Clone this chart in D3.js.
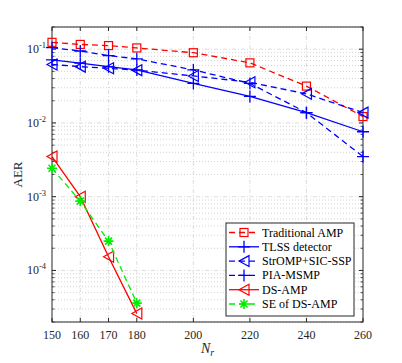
<!DOCTYPE html>
<html>
<head>
<meta charset="utf-8">
<script src="https://cdn.jsdelivr.net/npm/d3@7"></script>
<style>
  body { margin: 0; background: #fff; }
  text { font-family: "Liberation Serif", "DejaVu Serif", serif; }
</style>
</head>
<body>
<script>
// values
var nr = [150, 160, 170, 180, 200, 220, 240, 260];
var nrShort = [150, 160, 170, 180];
var tradAmp = [0.124, 0.116, 0.112, 0.104, 0.0896, 0.0653, 0.0316, 0.0122];
var tlss = [0.0718, 0.0647, 0.058, 0.0524, 0.0344, 0.0229, 0.0138, 0.0076];
var stromp = [0.062, 0.058, 0.055, 0.052, 0.0434, 0.0356, 0.0248, 0.0138];
var piaMsmp = [0.105, 0.0945, 0.082, 0.074, 0.0524, 0.0344, 0.0138, 0.0035];
var dsAmp = [0.0035, 0.001, 0.000153, 0.000026];
var seDsAmp = [0.00243, 0.00087, 0.00025, 0.000036];
var xTicks = [150, 160, 170, 180, 200, 220, 240, 260];
var yDecades = [-1, -2, -3, -4];

var series = [
  { name: "Traditional AMP", x: nr, y: tradAmp, color: "#ff0000", dash: "6,4", marker: "square" },
  { name: "TLSS detector", x: nr, y: tlss, color: "#0000ff", dash: null, marker: "plus" },
  { name: "StrOMP+SIC-SSP", x: nr, y: stromp, color: "#0000ff", dash: "6,4", marker: "tri" },
  { name: "PIA-MSMP", x: nr, y: piaMsmp, color: "#0000ff", dash: "6,4", marker: "plus" },
  { name: "DS-AMP", x: nrShort, y: dsAmp, color: "#ff0000", dash: null, marker: "tri" },
  { name: "SE of DS-AMP", x: nrShort, y: seDsAmp, color: "#00ee00", dash: "6,4", marker: "star" }
];

var width = 402, height = 363;
var margin = { left: 52, right: 39, top: 27, bottom: 41 };
var iw = width - margin.left - margin.right,
  ih = height - margin.top - margin.bottom;

var x = d3.scaleLinear().domain([150, 260]).range([0, iw]);
var y = d3.scaleLog().domain([2e-5, 0.2]).range([ih, 0]);

var svg = d3.select("body").append("svg")
  .attr("width", width)
  .attr("height", height);

var g = svg.append("g")
  .attr("transform", "translate(" + margin.left + "," + margin.top + ")");

// minor grid (dotted)
var minors = [];
[-5, -4, -3, -2, -1].forEach(function(e) {
  for (var k = 2; k <= 9; k++) {
    var v = k * Math.pow(10, e);
    if (v >= 2e-5 && v <= 0.2) minors.push(v);
  }
});
g.selectAll(".minor").data(minors).enter().append("line")
  .attr("x1", 0).attr("x2", iw)
  .attr("y1", function(d) { return y(d); })
  .attr("y2", function(d) { return y(d); })
  .attr("stroke", "#c8c8c8").attr("stroke-width", 0.8)
  .attr("stroke-dasharray", "1,2");

// major grid
g.selectAll(".hmaj").data(yDecades).enter().append("line")
  .attr("x1", 0).attr("x2", iw)
  .attr("y1", function(d) { return y(Math.pow(10, d)); })
  .attr("y2", function(d) { return y(Math.pow(10, d)); })
  .attr("stroke", "#d4d4d4").attr("stroke-width", 0.8)
  .attr("stroke-dasharray", "4,2,1,2");
g.selectAll(".vmaj").data(xTicks.slice(1, -1)).enter().append("line")
  .attr("y1", 0).attr("y2", ih)
  .attr("x1", function(d) { return x(d); })
  .attr("x2", function(d) { return x(d); })
  .attr("stroke", "#d4d4d4").attr("stroke-width", 0.8)
  .attr("stroke-dasharray", "4,2,1,2");

// ticks on all four sides
var tk = 4;
xTicks.forEach(function(v) {
  g.append("line").attr("x1", x(v)).attr("x2", x(v)).attr("y1", ih).attr("y2", ih - tk)
    .attr("stroke", "#262626");
  g.append("line").attr("x1", x(v)).attr("x2", x(v)).attr("y1", 0).attr("y2", tk)
    .attr("stroke", "#262626");
  g.append("text").attr("x", x(v)).attr("y", ih + 17)
    .attr("text-anchor", "middle").attr("font-size", 12).attr("fill", "#262626")
    .text(v);
});
minors.forEach(function(v) {
  g.append("line").attr("x1", 0).attr("x2", 2.5).attr("y1", y(v)).attr("y2", y(v))
    .attr("stroke", "#262626").attr("stroke-width", 0.8);
  g.append("line").attr("x1", iw).attr("x2", iw - 2.5).attr("y1", y(v)).attr("y2", y(v))
    .attr("stroke", "#262626").attr("stroke-width", 0.8);
});
yDecades.forEach(function(e) {
  var yy = y(Math.pow(10, e));
  g.append("line").attr("x1", 0).attr("x2", tk).attr("y1", yy).attr("y2", yy)
    .attr("stroke", "#262626");
  g.append("line").attr("x1", iw).attr("x2", iw - tk).attr("y1", yy).attr("y2", yy)
    .attr("stroke", "#262626");
  var t = g.append("text").attr("x", -6).attr("y", yy + 4)
    .attr("text-anchor", "end").attr("font-size", 12).attr("fill", "#262626");
  t.append("tspan").text("10");
  t.append("tspan").attr("dy", -5).attr("font-size", 8.5).text("-" + Math.abs(e));
});

// box
g.append("rect").attr("width", iw).attr("height", ih)
  .attr("fill", "none").attr("stroke", "#262626").attr("stroke-width", 1);

// markers
function drawMarker(sel, type, color, cx, cy) {
  var m = sel.append("g").attr("transform", "translate(" + cx + "," + cy + ")");
  if (type === "square") {
    m.append("rect").attr("x", -4).attr("y", -4).attr("width", 8).attr("height", 8)
      .attr("fill", "none").attr("stroke", color).attr("stroke-width", 1.2);
  } else if (type === "tri") {
    m.append("path").attr("d", "M-5,0L5,-5.5L5,5.5Z")
      .attr("fill", "none").attr("stroke", color).attr("stroke-width", 1.2);
  } else if (type === "plus") {
    m.append("path").attr("d", "M-6,0H6M0,-6V6")
      .attr("stroke", color).attr("stroke-width", 1.3);
  } else if (type === "star") {
    m.append("path").attr("d", "M-5,0H5M0,-5V5M-3.5,-3.5L3.5,3.5M-3.5,3.5L3.5,-3.5")
      .attr("stroke", color).attr("stroke-width", 1.6);
  }
}

var line = d3.line()
  .x(function(d) { return x(d[0]); })
  .y(function(d) { return y(d[1]); });

series.forEach(function(s) {
  var pts = s.x.map(function(v, i) { return [v, s.y[i]]; });
  g.append("path").datum(pts)
    .attr("d", line)
    .attr("fill", "none")
    .attr("stroke", s.color)
    .attr("stroke-width", 1.3)
    .attr("stroke-dasharray", s.dash);
  pts.forEach(function(p) {
    drawMarker(g, s.marker, s.color, x(p[0]), y(p[1]));
  });
});

// axis labels
svg.append("text")
  .attr("transform", "translate(22," + (margin.top + ih / 2) + ") rotate(-90)")
  .attr("text-anchor", "middle").attr("font-size", 13).attr("fill", "#262626")
  .text("AER");
var xl = svg.append("text")
  .attr("x", margin.left + iw / 2).attr("y", height - 10)
  .attr("text-anchor", "middle").attr("font-size", 14).attr("fill", "#262626");
xl.append("tspan").attr("font-style", "italic").text("N");
xl.append("tspan").attr("font-style", "italic").attr("font-size", 10).attr("dy", 3).text("r");

// legend
var lx = 226, ly = 223, lw = 128, lh = 93;
var leg = svg.append("g");
leg.append("rect").attr("x", lx).attr("y", ly).attr("width", lw).attr("height", lh)
  .attr("fill", "#fff").attr("stroke", "#262626").attr("stroke-width", 1);
series.forEach(function(s, i) {
  var yy = ly + 9.5 + i * 14.3;
  leg.append("line").attr("x1", lx + 3).attr("x2", lx + 33).attr("y1", yy).attr("y2", yy)
    .attr("stroke", s.color).attr("stroke-width", 1.3)
    .attr("stroke-dasharray", s.dash);
  drawMarker(leg, s.marker, s.color, lx + 18, yy);
  leg.append("text").attr("x", lx + 36).attr("y", yy + 4)
    .attr("font-size", 12).attr("fill", "#000").text(s.name);
});
</script>
</body>
</html>
